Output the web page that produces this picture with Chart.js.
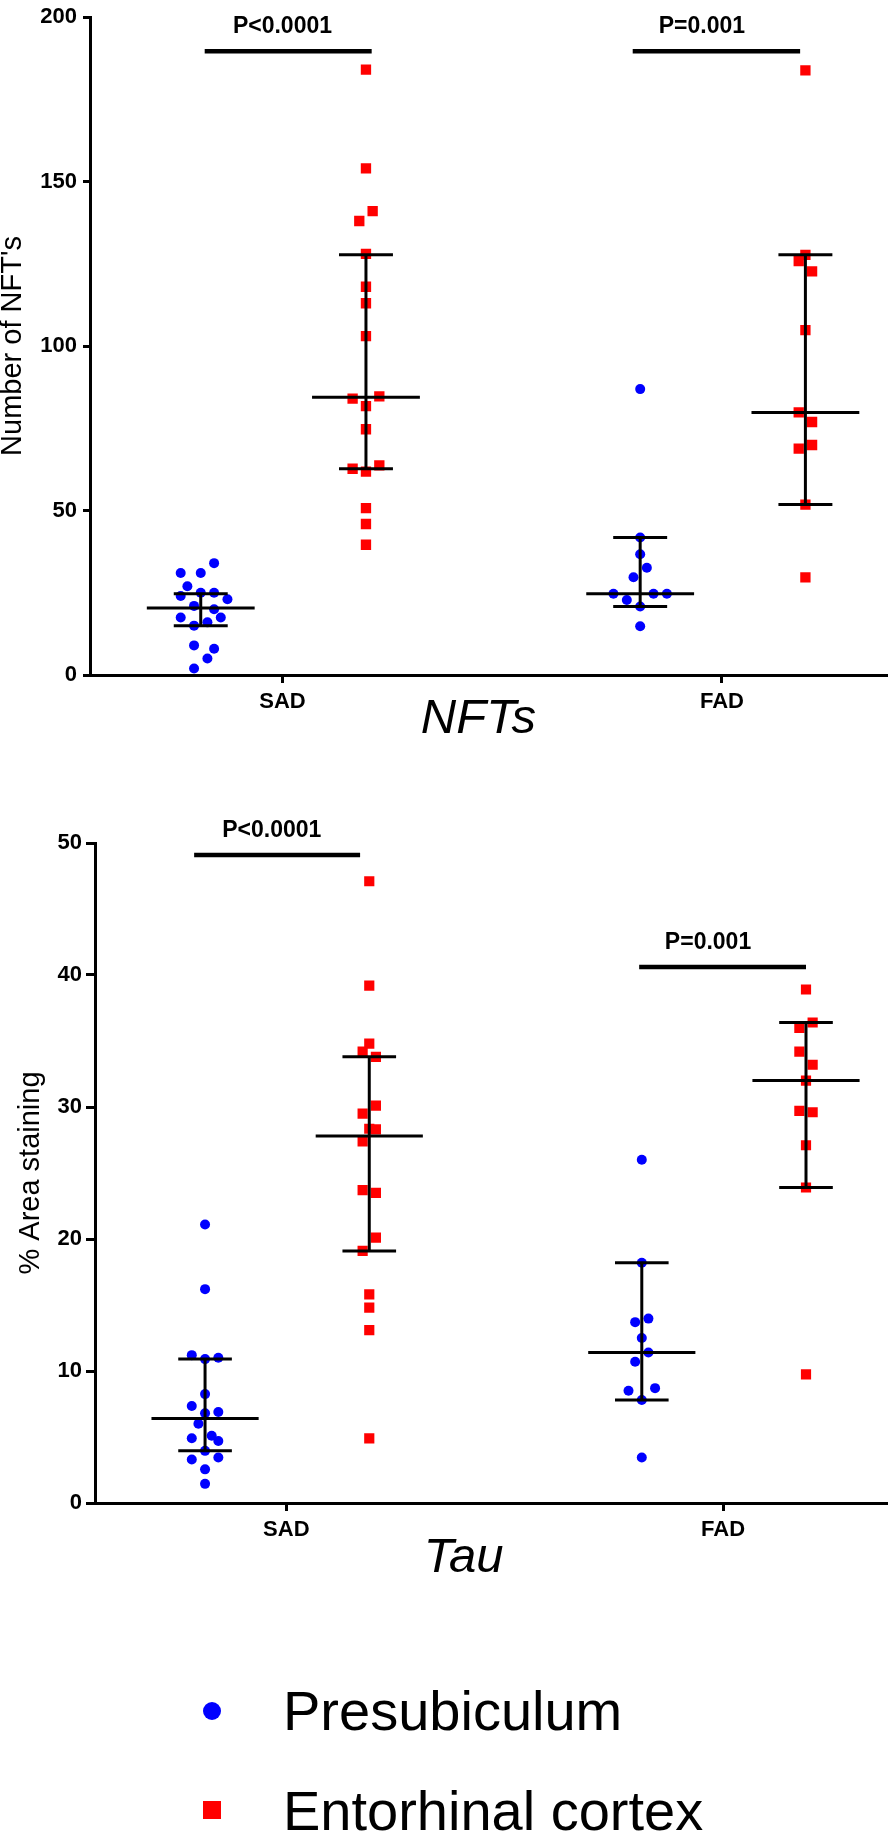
<!DOCTYPE html>
<html>
<head>
<meta charset="utf-8">
<script src="https://cdn.jsdelivr.net/npm/chart.js@4.4.1/dist/chart.umd.min.js"></script>
<style>
  html, body { margin: 0; padding: 0; background: #fff; }
  #wrap { position: relative; width: 894px; height: 1833px; overflow: hidden; }
  canvas { position: absolute; left: 0; }
  #c1 { top: 0; }
  #c2 { top: 780px; }
</style>
</head>
<body>
<div id="wrap">
  <canvas id="c1" width="894" height="760"></canvas>
  <canvas id="c2" width="894" height="1053"></canvas>
</div>
<script>
// ---------------- DATA ----------------
const categories = ['SAD', 'FAD'];
const seriesNames = ['Presubiculum', 'Entorhinal cortex'];

// Panel 1: NFTs (Number of NFT's)
const nftSadPresub  = [34, 31, 31, 27, 24, 25, 25, 23, 21, 20, 17.5, 17.5, 15, 16, 9, 8, 5, 2];
const nftSadPresubJitter = [2, -3, 0, -2, -3, 0, 2, 4, -1, 2, -3, 3, -1, 1, -1, 2, 1, -1];
const nftFadPresub  = [86.9, 41.8, 36.7, 32.6, 29.7, 24.7, 24.7, 24.7, 22.8, 20.8, 14.8];
const nftFadPresubJitter = [0, 0, 0, 1, -1, -4, 2, 4, -2, 0, 0];
const nftSadEnto    = [184, 154, 141, 138, 128, 118, 113, 103, 84, 84.7, 81.7, 74.7, 62.7, 63.7, 61.8, 50.7, 45.9, 39.6];
const nftSadEntoJitter = [0, 0, 1, -1, 0, 0, 0, 0, -2, 2, 0, 0, -2, 2, 0, 0, 0, 0];
const nftFadEnto    = [183.8, 127.7, 125.8, 122.7, 104.8, 79.8, 76.9, 68.8, 69.9, 51.8, 29.7];
const nftFadEntoJitter = [0, 0, -1, 1, 0, -1, 1, -1, 1, 0, 0];
const nftPresubMedian = [20.4, 24.7];
const nftPresubQ1     = [15.0, 20.8];
const nftPresubQ3     = [24.7, 41.8];
const nftEntoMedian   = [84.4, 79.8];
const nftEntoQ1       = [62.7, 51.8];
const nftEntoQ3       = [127.7, 127.7];
const nftTicks = [0, 50, 100, 150, 200];
const nftPLabels = ['P<0.0001', 'P=0.001'];
const nftPBarY = [189.6, 189.6];

// Panel 2: Tau (% Area staining)
const tauSadPresub  = [21.1, 16.2, 11.2, 10.9, 11.0, 8.25, 7.35, 6.9, 6.8, 6.0, 5.1, 4.9, 4.7, 3.95, 3.3, 3.45, 2.55, 1.45];
const tauSadPresubJitter = [0, 0, -2, 0, 2, 0, -2, 2, 0, -1, 1, -2, 2, 0, -2, 2, 0, 0];
const tauFadPresub  = [26.0, 18.2, 13.7, 13.97, 12.5, 11.4, 10.7, 8.5, 8.7, 7.8, 3.45];
const tauFadPresubJitter = [0, 0, -1, 1, 0, 1, -1, -2, 2, 0, 0];
const tauSadEnto    = [47.1, 39.2, 34.8, 34.2, 33.8, 30.1, 29.5, 28.35, 28.3, 27.4, 23.7, 23.5, 20.1, 19.1, 15.8, 14.8, 13.1, 4.9];
const tauSadEntoJitter = [0, 0, 0, -1, 1, 1, -1, 0, 1, -1, -1, 1, 1, -1, 0, 0, 0, 0];
const tauFadEnto    = [38.9, 36.4, 36.0, 34.2, 33.2, 32.0, 29.7, 29.6, 27.1, 23.9, 9.74];
const tauFadEntoJitter = [0, 1, -1, -1, 1, 0, -1, 1, 0, 0, 0];
const tauPresubMedian = [6.4, 11.4];
const tauPresubQ1     = [3.95, 7.8];
const tauPresubQ3     = [10.9, 18.2];
const tauEntoMedian   = [27.8, 32.0];
const tauEntoQ1       = [19.1, 23.9];
const tauEntoQ3       = [33.8, 36.4];
const tauTicks = [0, 10, 20, 30, 40, 50];
const tauPLabels = ['P<0.0001', 'P=0.001'];
const tauPBarY = [49.1, 40.6];

// ---------------- RENDERING ----------------
const FONT = '"Liberation Sans", Arial, Helvetica, sans-serif';
const GROUP_OFFSET = [-0.186, 0.19];   // presubiculum / entorhinal column offsets
const JITTER_STEP = 0.0152;
const MEDIAN_HALF = 0.1227;
const CAP_HALF = 0.0614;

function columnPoints(valsByCat, jitByCat, s) {
  const out = [];
  valsByCat.forEach((vals, g) => {
    vals.forEach((v, i) => out.push({ x: g + 1 + GROUP_OFFSET[s] + jitByCat[g][i] * JITTER_STEP, y: v }));
  });
  return out;
}

function summarySegments(med, q1, q3, s) {
  const out = [];
  med.forEach((m, g) => {
    const c = g + 1 + GROUP_OFFSET[s];
    out.push({ x: c - MEDIAN_HALF, y: m }, { x: c + MEDIAN_HALF, y: m }, { x: null, y: null });
    out.push({ x: c - CAP_HALF, y: q3[g] }, { x: c + CAP_HALF, y: q3[g] }, { x: null, y: null });
    out.push({ x: c - CAP_HALF, y: q1[g] }, { x: c + CAP_HALF, y: q1[g] }, { x: null, y: null });
    out.push({ x: c, y: q1[g] }, { x: c, y: q3[g] }, { x: null, y: null });
  });
  return out;
}

function barSegments(barY, adj) {
  const out = [];
  barY.forEach((yv, g) => {
    out.push({ x: g + 1 + GROUP_OFFSET[0] + adj[g][0], y: yv },
             { x: g + 1 + GROUP_OFFSET[1] + adj[g][1], y: yv },
             { x: null, y: null });
  });
  return out;
}

const annotatePlugin = {
  id: 'annotate',
  afterDatasetsDraw(chart, args, o) {
    const { ctx } = chart;
    const xs = chart.scales.x, ys = chart.scales.y;
    ctx.save();
    ctx.fillStyle = '#000';
    ctx.textAlign = 'center';
    ctx.textBaseline = 'alphabetic';
    ctx.font = 'bold 23px ' + FONT;
    o.labels.forEach((t, g) => {
      const px = xs.getPixelForValue(g + 1) + o.labelDx[g];
      const py = ys.getPixelForValue(o.barY[g]) - o.labelGap;
      ctx.fillText(t, px, py);
    });
    ctx.font = 'italic 49px ' + FONT;
    ctx.fillText(o.caption, xs.getPixelForValue(o.captionX), chart.chartArea.bottom + o.captionDy);
    if (o.legend) {
      const L = o.legend;
      ctx.textAlign = 'left';
      ctx.font = '56px ' + FONT;
      ctx.fillStyle = '#0000ff';
      ctx.beginPath();
      ctx.arc(L.markerX, L.rows[0] - 19, 9, 0, Math.PI * 2);
      ctx.fill();
      ctx.fillStyle = '#ff0000';
      ctx.fillRect(L.markerX - 9, L.rows[1] - 29, 18, 18);
      ctx.fillStyle = '#000';
      ctx.fillText(seriesNames[0], L.textX, L.rows[0]);
      ctx.fillText(seriesNames[1], L.textX, L.rows[1]);
    }
    ctx.restore();
  }
};

function makePanel(id, p) {
  const presubPts = columnPoints(p.presub, p.presubJ, 0);
  const entoPts = columnPoints(p.ento, p.entoJ, 1);
  const summary = summarySegments(p.pMed, p.pQ1, p.pQ3, 0).concat(summarySegments(p.eMed, p.eQ1, p.eQ3, 1));
  const bars = barSegments(p.barY, p.barAdj);

  return new Chart(document.getElementById(id), {
    type: 'scatter',
    data: {
      datasets: [
        { label: 'summary', data: summary, showLine: true, borderColor: '#000', borderWidth: 3,
          borderCapStyle: 'butt', pointRadius: 0, spanGaps: false, order: 0 },
        { label: 'significance', data: bars, showLine: true, borderColor: '#000', borderWidth: 4.5,
          borderCapStyle: 'butt', pointRadius: 0, spanGaps: false, order: 0 },
        { label: seriesNames[0], data: presubPts, pointStyle: 'circle', pointRadius: 5,
          backgroundColor: '#0000ff', borderColor: '#0000ff', borderWidth: 0, order: 2 },
        { label: seriesNames[1], data: entoPts, pointStyle: 'rect', pointRadius: p.sq,
          backgroundColor: '#ff0000', borderColor: '#ff0000', borderWidth: 0, order: 1 }
      ]
    },
    plugins: [annotatePlugin],
    options: {
      responsive: false,
      animation: false,
      events: [],
      layout: { padding: p.padding },
      plugins: {
        legend: { display: false },
        tooltip: { enabled: false },
        annotate: {
          labels: p.pLabels, barY: p.barY, labelDx: p.labelDx, labelGap: 18,
          caption: p.caption, captionX: p.captionX, captionDy: p.captionDy, legend: p.legend
        }
      },
      scales: {
        x: {
          type: 'linear', min: 0.562, max: 2.375,
          afterBuildTicks: s => { s.ticks = categories.map((c, i) => ({ value: i + 1 })); },
          afterFit: s => { s.height = p.xHeight; },
          ticks: {
            callback: v => categories[v - 1],
            font: { family: FONT, size: 22, weight: 'bold', lineHeight: 1 },
            color: '#000', padding: 8, autoSkip: false, maxRotation: 0
          },
          grid: { display: true, drawOnChartArea: false, drawTicks: true, tickLength: 8,
                  lineWidth: 3, color: '#000' },
          border: { display: true, color: '#000', width: 3 }
        },
        y: {
          type: 'linear', min: p.ticks[0], max: p.ticks[p.ticks.length - 1],
          afterBuildTicks: s => { s.ticks = p.ticks.map(v => ({ value: v })); },
          afterFit: s => { s.width = p.yWidth; },
          ticks: {
            font: { family: FONT, size: 22, weight: 'bold', lineHeight: 1 },
            color: '#000', padding: p.yTickPad
          },
          grid: { display: true, drawOnChartArea: false, drawTicks: true, tickLength: p.yTickLen,
                  lineWidth: 3, color: '#000' },
          border: { display: true, color: '#000', width: 3 },
          title: {
            display: true, text: p.yTitle, color: '#000',
            font: { family: FONT, size: 29, weight: 'normal' },
            padding: { top: p.yTitlePad, bottom: 0 }
          }
        }
      }
    }
  });
}

makePanel('c1', {
  presub: [nftSadPresub, nftFadPresub], presubJ: [nftSadPresubJitter, nftFadPresubJitter],
  ento: [nftSadEnto, nftFadEnto], entoJ: [nftSadEntoJitter, nftFadEntoJitter],
  pMed: nftPresubMedian, pQ1: nftPresubQ1, pQ3: nftPresubQ3,
  eMed: nftEntoMedian, eQ1: nftEntoQ1, eQ3: nftEntoQ3,
  ticks: nftTicks, pLabels: nftPLabels, barY: nftPBarY,
  barAdj: [[0.009, 0.013], [-0.017, -0.012]], labelDx: [0, -20],
  sq: 7.3, yTitle: "Number of NFT's", yTitlePad: -4,
  yWidth: 90, yTickLen: 7, yTickPad: 6, xHeight: 85,
  padding: { top: 12, right: 4, left: 0, bottom: 0 },
  caption: 'NFTs', captionX: 1.446, captionDy: 58
});

makePanel('c2', {
  presub: [tauSadPresub, tauFadPresub], presubJ: [tauSadPresubJitter, tauFadPresubJitter],
  ento: [tauSadEnto, tauFadEnto], entoJ: [tauSadEntoJitter, tauFadEntoJitter],
  pMed: tauPresubMedian, pQ1: tauPresubQ1, pQ3: tauPresubQ3,
  eMed: tauEntoMedian, eQ1: tauEntoQ1, eQ3: tauEntoQ3,
  ticks: tauTicks, pLabels: tauPLabels, barY: tauPBarY,
  barAdj: [[-0.025, -0.021], [-0.006, 0]], labelDx: [-14.5, -15],
  sq: 7.2, yTitle: '% Area staining', yTitlePad: 14,
  yWidth: 95, yTickLen: 9, yTickPad: 4, xHeight: 330,
  padding: { top: 63, right: 2, left: 0, bottom: 0 },
  caption: 'Tau', captionX: 1.406, captionDy: 69,
  legend: { markerX: 212, textX: 283, rows: [950, 1050] }
});
</script>
</body>
</html>
